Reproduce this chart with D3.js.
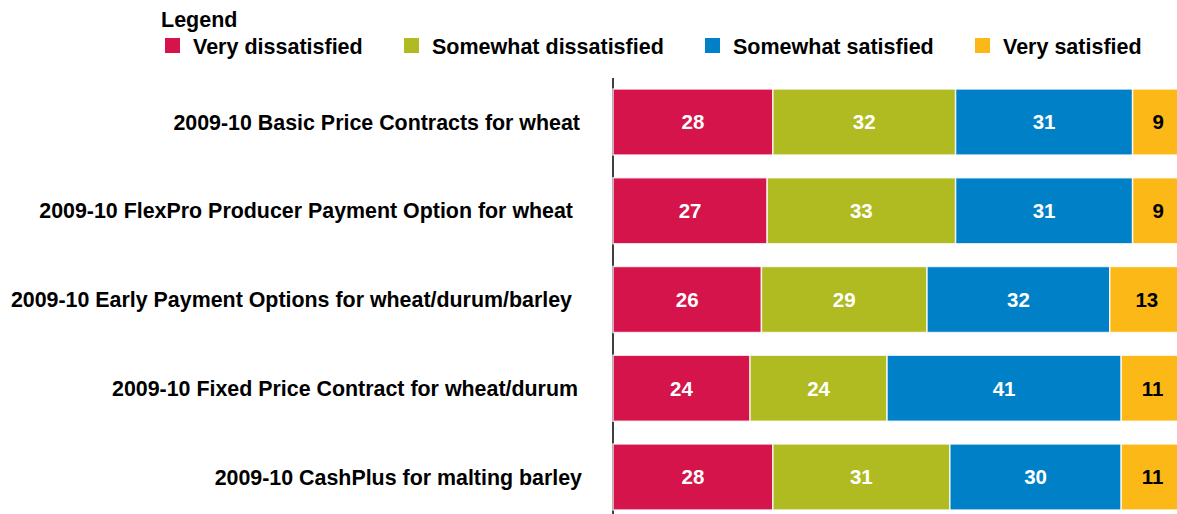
<!DOCTYPE html>
<html><head><meta charset="utf-8">
<script src="https://cdn.jsdelivr.net/npm/d3@7"></script>
<style>body{margin:0;background:#fff;overflow:hidden}svg{display:block;font-family:"Liberation Sans",Arial,sans-serif}</style>
</head><body>
<svg id="c" width="1177" height="514"></svg>
<script>
const categories = [
  "2009-10 Basic Price Contracts for wheat",
  "2009-10 FlexPro Producer Payment Option for wheat",
  "2009-10 Early Payment Options for wheat/durum/barley",
  "2009-10 Fixed Price Contract for wheat/durum",
  "2009-10 CashPlus for malting barley"
];
const seriesNames = ["Very dissatisfied","Somewhat dissatisfied","Somewhat satisfied","Very satisfied"];
const veryDissatisfied = [28,27,26,24,28];
const somewhatDissatisfied = [32,33,29,24,31];
const somewhatSatisfied = [31,31,32,41,30];
const verySatisfied = [9,9,13,11,11];
const colors = ["#D4144A","#AFBB21","#0080C6","#FBB817"];
const textColors = ["#fff","#fff","#fff","#000"];
const labelRight = [580,573,572,578,582];

const rows = categories.map((c,i)=>({cat:c, vals:[veryDissatisfied[i],somewhatDissatisfied[i],somewhatSatisfied[i],verySatisfied[i]]}));
const svg = d3.select("#c");
const x = d3.scaleLinear().domain([0,100]).range([613,1184]);
const y = d3.scaleBand().domain(categories).range([89,510]).paddingInner(0.256).paddingOuter(0);

// axis line
svg.append("line").attr("x1",613).attr("x2",613).attr("y1",78).attr("y2",514).attr("stroke","#000").attr("stroke-width",1.5);

const g = svg.append("g");
rows.forEach((r,i)=>{
  let cum=0;
  r.vals.forEach((v,k)=>{
    const x0=x(cum), x1=x(cum+v);
    g.append("rect").attr("x",x0).attr("y",y(r.cat)).attr("width",x1-x0).attr("height",y.bandwidth())
      .attr("fill",colors[k]).attr("stroke","#fff").attr("stroke-opacity",0.8).attr("stroke-width",1.5);
    g.append("text").attr("x",(x0+x1)/2).attr("y",y(r.cat)+y.bandwidth()/2).attr("dy","0.36em")
      .attr("text-anchor","middle").attr("font-size",20.5).attr("font-weight","bold").attr("fill",textColors[k]).text(v);
    cum+=v;
  });
  svg.append("text").attr("x",labelRight[i]).attr("y",y(r.cat)+y.bandwidth()/2).attr("dy","0.36em")
    .attr("text-anchor","end").attr("font-size",21.4).attr("font-weight","bold").attr("fill","#000").text(r.cat);
});

// legend
svg.append("text").attr("x",161).attr("y",27).attr("font-size",21.5).attr("font-weight","bold").text("Legend");
const legX=[165,404,705,975];
seriesNames.forEach((n,k)=>{
  svg.append("rect").attr("x",legX[k]).attr("y",38).attr("width",15).attr("height",15).attr("fill",colors[k]);
  svg.append("text").attr("x",legX[k]+28).attr("y",54).attr("font-size",21.5).attr("font-weight","bold").text(n);
});
</script>
</body></html>
